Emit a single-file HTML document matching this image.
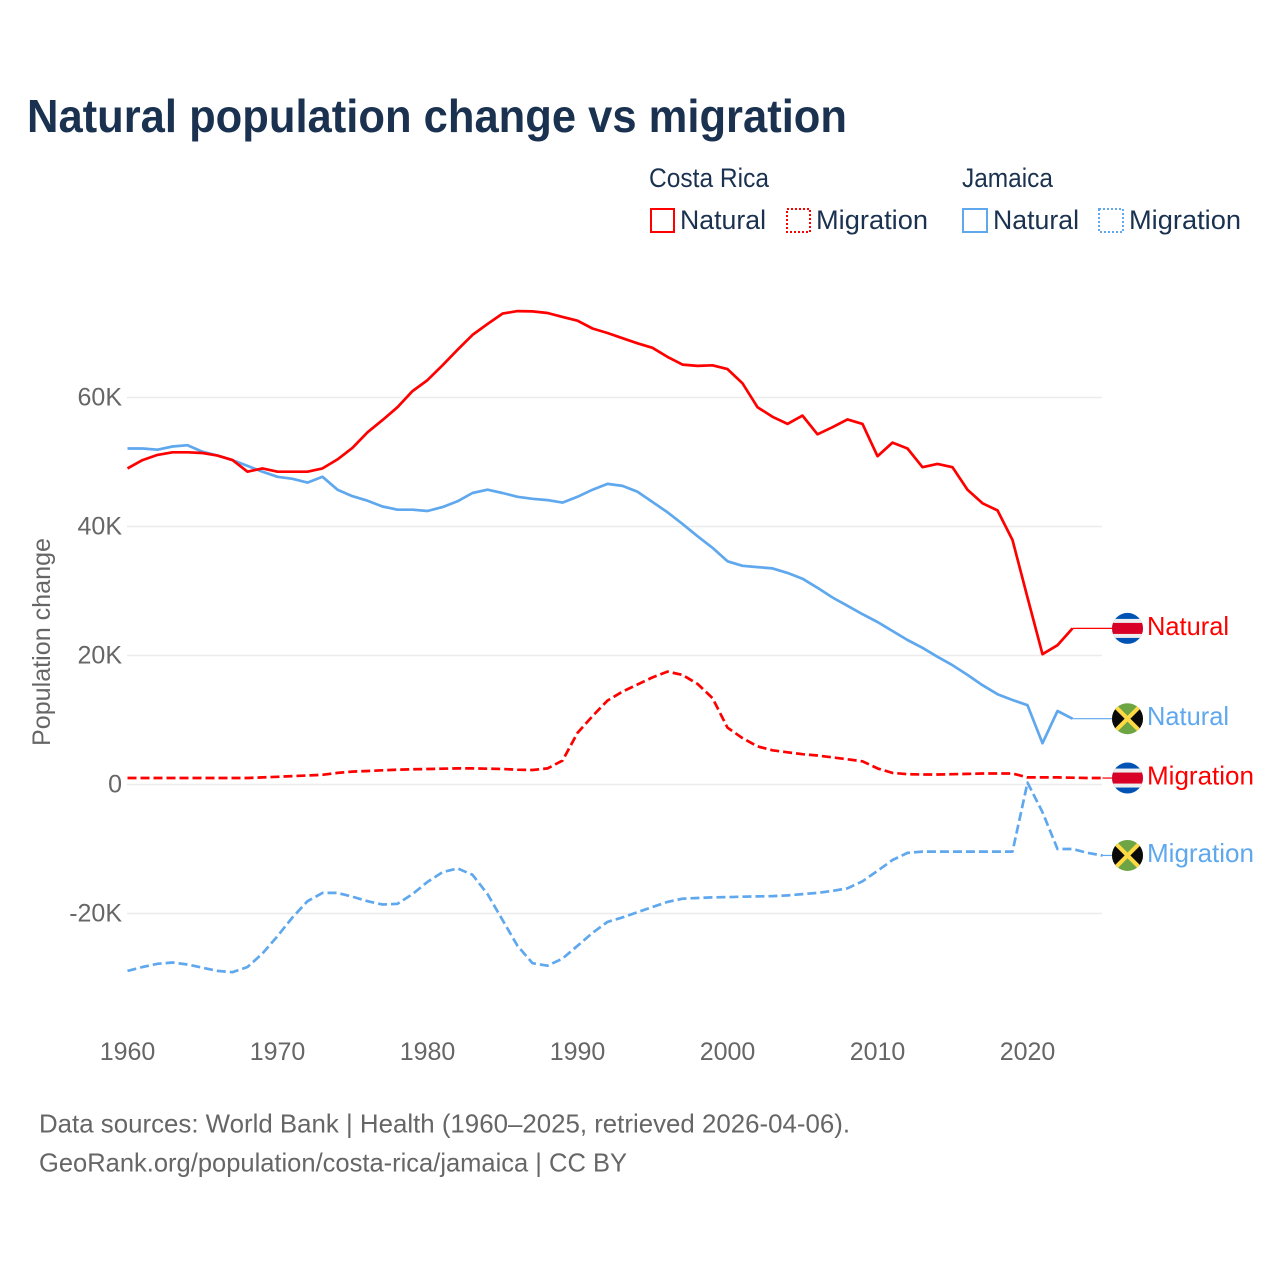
<!DOCTYPE html>
<html lang="en">
<head>
<meta charset="utf-8">
<title>Natural population change vs migration</title>
<style>
html,body{margin:0;padding:0;background:#fff;}
svg{display:block;font-family:"Liberation Sans",sans-serif;}
</style>
</head>
<body>
<svg id="chart" xmlns="http://www.w3.org/2000/svg" width="1280" height="1280" viewBox="0 0 1280 1280">
  <defs>
    <clipPath id="flag-clip"><circle cx="0" cy="0" r="15.5"/></clipPath>
    <g id="flag-cr">
      <g clip-path="url(#flag-clip)">
        <rect x="-16" y="-16" width="32" height="32" fill="#0052b4"/>
        <rect x="-16" y="-9.5" width="32" height="19" fill="#eeeeee"/>
        <rect x="-16" y="-5.5" width="32" height="11" fill="#d80027"/>
      </g>
    </g>
    <g id="flag-jm">
      <g clip-path="url(#flag-clip)">
        <rect x="-16" y="-16" width="32" height="32" fill="#6da544"/>
        <path d="M-16,-16 L0,0 L-16,16 Z M16,-16 L0,0 L16,16 Z" fill="#0a0a0a"/>
        <path d="M-13,-13 L13,13 M13,-13 L-13,13" stroke="#ffda44" stroke-width="4" fill="none"/>
      </g>
    </g>
  </defs>

  <text x="27" y="132" font-size="46" font-weight="700" fill="#1a3250" textLength="820" lengthAdjust="spacingAndGlyphs">Natural population change vs migration</text>

  <g font-size="27" fill="#1a3250">
    <text x="649" y="187" textLength="120" lengthAdjust="spacingAndGlyphs">Costa Rica</text>
    <text x="962" y="187" textLength="91" lengthAdjust="spacingAndGlyphs">Jamaica</text>
    <g>
      <rect x="651" y="209" width="23" height="23" fill="none" stroke="#ff0000" stroke-width="2"/>
      <text x="680" y="229" textLength="86" lengthAdjust="spacingAndGlyphs">Natural</text>
    </g>
    <g>
      <rect x="787" y="209" width="23" height="23" fill="none" stroke="#ff0000" stroke-width="2" stroke-dasharray="2 2"/>
      <text x="816" y="229" textLength="112" lengthAdjust="spacingAndGlyphs">Migration</text>
    </g>
    <g>
      <rect x="963" y="209" width="24" height="23" fill="none" stroke="#5fa8ee" stroke-width="2"/>
      <text x="993" y="229" textLength="86" lengthAdjust="spacingAndGlyphs">Natural</text>
    </g>
    <g>
      <rect x="1099" y="209" width="24" height="23" fill="none" stroke="#5fa8ee" stroke-width="2" stroke-dasharray="2 2"/>
      <text x="1129" y="229" textLength="112" lengthAdjust="spacingAndGlyphs">Migration</text>
    </g>
  </g>

  <g id="grid"></g>
  <g id="y-ticks" font-size="25" fill="#666666" text-anchor="end"></g>
  <g id="x-ticks" font-size="25" fill="#666666" text-anchor="middle"></g>
  <text transform="translate(50 746) rotate(-90)" font-size="25" fill="#666666" textLength="208" lengthAdjust="spacingAndGlyphs">Population change</text>

  <g id="series"></g>

  <g font-size="26" fill="#666666">
    <text x="39" y="1132.5" textLength="811" lengthAdjust="spacingAndGlyphs">Data sources: World Bank | Health (1960–2025, retrieved 2026-04-06).</text>
    <text x="39" y="1171.5" textLength="588" lengthAdjust="spacingAndGlyphs">GeoRank.org/population/costa-rica/jamaica | CC BY</text>
  </g>
</svg>

<script>
const firstYear = 1960;
const xTickYears = [1960, 1970, 1980, 1990, 2000, 2010, 2020];
const yTickValues = [60, 40, 20, 0, -20];
const yTickLabels = ["60K", "40K", "20K", "0", "-20K"];

const costaRicaNatural = [49.0,50.3,51.1,51.5,51.5,51.4,51.0,50.3,48.5,49.0,48.5,48.5,48.5,49.0,50.4,52.2,54.6,56.5,58.5,61.0,62.7,65.0,67.4,69.7,71.4,73.0,73.4,73.35,73.1,72.5,71.9,70.7,70.0,69.2,68.4,67.7,66.3,65.1,64.9,65.0,64.4,62.2,58.5,57.0,55.9,57.2,54.3,55.4,56.6,55.9,50.9,53.0,52.1,49.2,49.7,49.2,45.7,43.6,42.5,37.9,29.0,20.2,21.6,24.2];
const jamaicaNatural = [52.1,52.1,51.9,52.4,52.6,51.6,51.0,50.3,49.4,48.5,47.7,47.4,46.8,47.7,45.7,44.7,44.0,43.1,42.6,42.6,42.4,43.0,43.9,45.2,45.7,45.2,44.6,44.3,44.1,43.7,44.6,45.7,46.6,46.3,45.4,43.8,42.2,40.4,38.5,36.7,34.6,33.9,33.7,33.5,32.8,31.9,30.5,29.0,27.7,26.4,25.2,23.8,22.4,21.2,19.8,18.5,17.0,15.4,14.0,13.1,12.3,6.4,11.4,10.2];
const costaRicaMigration = [1.0,1.0,1.0,1.0,1.0,1.0,1.0,1.0,1.0,1.1,1.2,1.3,1.4,1.5,1.8,2.0,2.1,2.2,2.3,2.35,2.4,2.45,2.5,2.5,2.45,2.4,2.3,2.25,2.5,3.7,8.0,10.6,13.0,14.4,15.5,16.6,17.5,17.0,15.6,13.4,8.8,7.2,5.9,5.3,5.0,4.7,4.5,4.2,3.9,3.6,2.5,1.8,1.6,1.55,1.55,1.6,1.65,1.7,1.7,1.7,1.1,1.1,1.1,1.05,1.0,1.0];
const jamaicaMigration = [-28.9,-28.3,-27.8,-27.6,-27.9,-28.4,-28.9,-29.1,-28.3,-26.2,-23.5,-20.6,-18.1,-16.8,-16.8,-17.4,-18.1,-18.6,-18.5,-17.0,-15.1,-13.6,-13.0,-14.0,-17.0,-21.0,-25.0,-27.7,-28.1,-27.0,-25.0,-23.0,-21.3,-20.6,-19.8,-19.0,-18.2,-17.7,-17.6,-17.5,-17.45,-17.4,-17.35,-17.3,-17.2,-17.0,-16.8,-16.5,-16.1,-15.0,-13.4,-11.7,-10.6,-10.4,-10.4,-10.4,-10.4,-10.4,-10.4,-10.4,0.3,-4.3,-10.0,-10.0,-10.6,-11.0];

const SVG_NS = "http://www.w3.org/2000/svg";
const RED = "#ff0000";
const BLUE = "#5fa8ee";
const LABEL_X = 1147;
const LEADER_END_X = 1112;

function xScale(year) { return 127.5 + (year - firstYear) * 15; }
function yScale(value) { return 784.5 - value * 6.45; }
function make(tag, attrs) {
  const el = document.createElementNS(SVG_NS, tag);
  for (const k in attrs) el.setAttribute(k, attrs[k]);
  return el;
}

const gridGroup = document.getElementById("grid");
const yTickGroup = document.getElementById("y-ticks");
const xTickGroup = document.getElementById("x-ticks");
const seriesGroup = document.getElementById("series");

yTickValues.forEach(function (v, i) {
  const line = make("line", { x1: 127, x2: 1102, y1: yScale(v), y2: yScale(v), stroke: "#ebebeb", "stroke-width": 1.6 });
  
  
  gridGroup.appendChild(line);

  const label = make("text", { x: 122, y: yScale(v) + 8 });
  
  
  label.textContent = yTickLabels[i];
  yTickGroup.appendChild(label);
});

xTickYears.forEach(function (year) {
  const label = make("text", { x: xScale(year), y: 1060 });
  
  
  label.textContent = String(year);
  xTickGroup.appendChild(label);
});

function drawSeries(name, values, color, dashed, flagId, labelText) {
  const group = make("g", {});
  
  

  const pts = values.map(function (v, i) {
    return xScale(firstYear + i).toFixed(1) + "," + yScale(v).toFixed(1);
  });
  const lastX = xScale(firstYear + values.length - 1);
  const lastY = yScale(values[values.length - 1]);

  const leader = make("line", { x1: lastX, y1: lastY, x2: LEADER_END_X, y2: lastY, stroke: color, "stroke-width": 1.2 });
  
  
  group.appendChild(leader);

  const line = make("polyline", { points: pts.join(" "), fill: "none", stroke: color, "stroke-width": 2.7, "stroke-linejoin": "round" });
  if (dashed) line.setAttribute("stroke-dasharray", "9 4");
  
  
  group.appendChild(line);

  const flag = make("use", { href: "#" + flagId, x: 1127.5, y: lastY });
  
  
  group.appendChild(flag);

  const label = make("text", { x: LABEL_X, y: lastY + 6.5, fill: color, "font-size": 26, textLength: labelText === "Natural" ? 82 : 107, lengthAdjust: "spacingAndGlyphs" });
  
  
  label.textContent = labelText;
  group.appendChild(label);

  seriesGroup.appendChild(group);
}

drawSeries("jamaica-migration", jamaicaMigration, BLUE, true, "flag-jm", "Migration");
drawSeries("costa-rica-migration", costaRicaMigration, RED, true, "flag-cr", "Migration");
drawSeries("jamaica-natural", jamaicaNatural, BLUE, false, "flag-jm", "Natural");
drawSeries("costa-rica-natural", costaRicaNatural, RED, false, "flag-cr", "Natural");
</script>
</body>
</html>
